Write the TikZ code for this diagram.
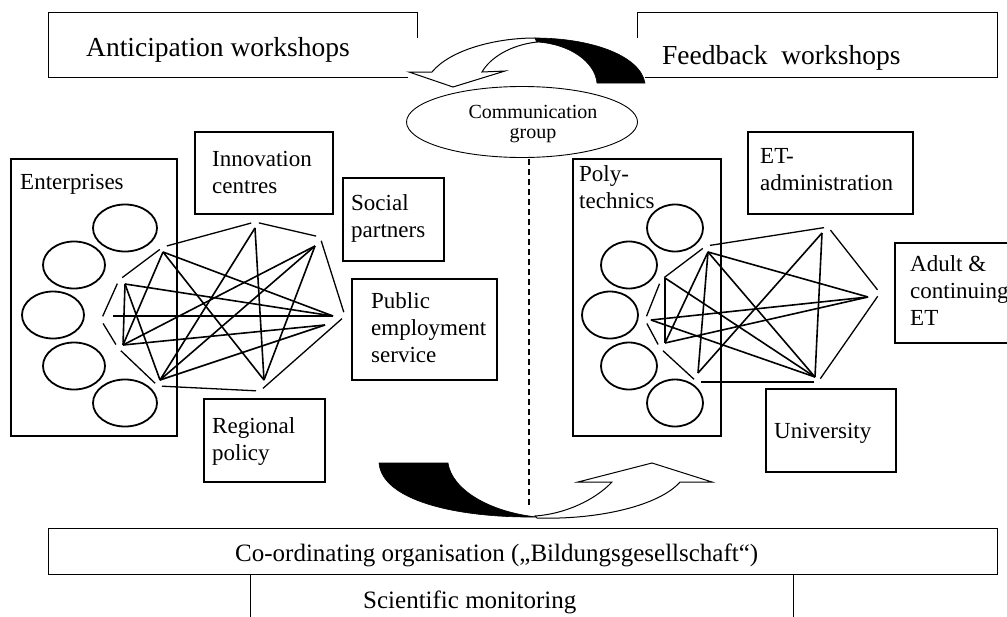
\documentclass[tikz,border=0pt]{standalone}
\usepackage{fontspec}
\setmainfont{Liberation Serif}
\usetikzlibrary{shapes.geometric}
\def\blob(#1)(#2:#3){\draw[line width=1.8pt] (#1) ellipse (#2pt and #3pt);}

\begin{document}
\begin{tikzpicture}[x=1pt,y=-1pt,
		thinline/.style={line width=0.9pt},
		unitline/.style={line width=1.9pt},
		link/.style={line width=1.6pt},
		rim/.style={line width=1.3pt, shorten >=4pt, shorten <=4pt},
		boxtext/.style={anchor=base west, align=left, inner sep=0pt, font=\fontsize{23}{27}\selectfont},
		headtext/.style={anchor=base west, inner sep=0pt, font=\fontsize{27.5}{30}\selectfont},
		foottext/.style={anchor=base west, inner sep=0pt, font=\fontsize{25}{28}\selectfont}]
			%%%%% START %%%%%
			\useasboundingbox (0,0) rectangle (1007,616);
			
			% workshops on top
			\draw[thinline] (417,38) -- (417,12) -- (48,12) -- (48,77) -- (408,77);
			\node[headtext] (antic) at (86,56) {Anticipation workshops};
			\draw[thinline] (637,38) -- (637,12) -- (997,12) -- (997,77) -- (645,77);
			\node[headtext] (feedb) at (662,64) {Feedback\ \ workshops};
			
			\node[draw, ellipse, thinline, minimum width=231pt, minimum height=71pt] (comm) at (522,122) {};
			\node[anchor=base, align=center, inner sep=0pt, font=\fontsize{20}{20}\selectfont] (commtext) at (533,138) {Communication\\group};
			
			% left side
			\draw[unitline] (11,159) rectangle (177,436);
			\node[boxtext] (ent) at (20,189) {Enterprises};
			\blob(125,228)(32:23.5)
			\blob(74,265)(31:23.5)
			\blob(53,315)(31:23.5)
			\blob(74,366)(31:23.5)
			\blob(125,403)(32:23.5)
			
			\draw[unitline] (195,132) rectangle (333,214);
			\node[boxtext] (innov) at (212,193) {Innovation\\centres};
			\draw[unitline] (343,178) rectangle (444,261);
			\node[boxtext] (social) at (351,237) {Social\\partners};
			\draw[unitline] (352,279) rectangle (497,380);
			\node[boxtext] (pes) at (371,362) {Public\\employment\\service};
			\draw[unitline] (204,399) rectangle (325,482);
			\node[boxtext] (regio) at (212,460) {Regional\\policy};
			
			\coordinate (o1) at (163,247);
			\coordinate (o2) at (255,222);
			\coordinate (o3) at (320,237);
			\coordinate (o4) at (345,316);
			\coordinate (o5) at (260,391);
			\coordinate (o6) at (158,386);
			\coordinate (o7) at (118,348);
			\coordinate (o8) at (101,320);
			\coordinate (o9) at (119,280);
			\draw[rim] (o1) -- (o2);
			\draw[rim] (o2) -- (o3);
			\draw[rim] (o3) -- (o4);
			\draw[rim] (o4) -- (o5);
			\draw[rim] (o5) -- (o6);
			\draw[rim] (o6) -- (o7);
			\draw[rim] (o7) -- (o8);
			\draw[rim] (o8) -- (o9);
			\draw[rim] (o9) -- (o1);
			
			\coordinate (l1) at (163,252);
			\coordinate (l2) at (255,228);
			\coordinate (l3) at (315,246);
			\coordinate (l4) at (333,316);
			\coordinate (l4x) at (325,325);
			\coordinate (l5) at (264,380);
			\coordinate (l6) at (160,380);
			\coordinate (l7) at (123,345);
			\coordinate (l8) at (113,316);
			\coordinate (l9) at (125,284);
			\draw[link] (l1) -- (l4);
			\draw[link] (l1) -- (l7);
			\draw[link] (l1) -- (l5);
			\draw[link] (l9) -- (l4);
			\draw[link] (l9) -- (l7);
			\draw[link] (l9) -- (l6);
			\draw[link] (l8) -- (l4);
			\draw[link] (l7) -- (l3);
			\draw[link] (l7) -- (l4x);
			\draw[link] (l6) -- (l2);
			\draw[link] (l6) -- (l3);
			\draw[link] (l6) -- (l4x);
			\draw[link] (l2) -- (l5);
			\draw[link] (l5) -- (l3);
			
			% right side
			\draw[line width=2.6pt] (573,159) rectangle (721,436);
			\node[boxtext] (poly) at (579,208) {Poly-\\technics};
			\blob(675,228)(28:23.5)
			\blob(629,265)(28:23.5)
			\blob(610,315)(28:23.5)
			\blob(629,366)(28:23.5)
			\blob(675,403)(28:23.5)
			
			\draw[unitline] (748,132) rectangle (913,214);
			\node[boxtext] (etadm) at (760,190) {ET-\\administration};
			\draw[unitline] (895,243) rectangle (1012,343);
			\node[boxtext] (adult) at (910,325) {Adult \&\\continuing\\ET};
			\draw[unitline] (766,389) rectangle (896,472);
			\node[boxtext] (univ) at (774,438) {University};
			
			\coordinate (p1) at (706,246);
			\coordinate (p2) at (828,227);
			\coordinate (p3) at (880,293);
			\coordinate (p4) at (818,382);
			\coordinate (p5) at (697,382);
			\coordinate (p6) at (660,348);
			\coordinate (p7) at (645,320);
			\coordinate (p8) at (661,280);
			\draw[rim] (p1) -- (p2);
			\draw[rim] (p2) -- (p3);
			\draw[rim] (p3) -- (p4);
			\draw[rim] (p4) -- (p5);
			\draw[rim] (p5) -- (p6);
			\draw[rim] (p6) -- (p7);
			\draw[rim] (p7) -- (p8);
			\draw[rim] (p8) -- (p1);
			
			\coordinate (r1) at (708,252);
			\coordinate (r2) at (822,233);
			\coordinate (r3) at (868,297);
			\coordinate (r4) at (815,377);
			\coordinate (r5) at (698,373);
			\coordinate (r6) at (665,343);
			\coordinate (r7) at (651,320);
			\coordinate (r8) at (665,278);
			\draw[link] (r1) -- (r3);
			\draw[link] (r1) -- (r6);
			\draw[link] (r1) -- (r4);
			\draw[link] (r1) -- (r5);
			\draw[link] (r8) -- (r6);
			\draw[link] (r8) -- (r4);
			\draw[link] (r7) -- (r3);
			\draw[link] (r6) -- (r3);
			\draw[link] (r7) -- (r4);
			\draw[link] (r5) -- (r2);
			\draw[link] (r2) -- (r4);
			
			% middle
			\coordinate (dtop) at (529,159);
			\coordinate (dbot) at (529,508);
			\draw[line width=1.1pt, dash pattern=on 6pt off 4pt] (dtop) -- (dbot);
			
			\draw[fill=black, line width=0.6pt] (535,38) .. controls (590,38) and (640,55) .. (645,83) -- (597,83) .. controls (595,62) and (570,44) .. (537,42) -- cycle;
			\draw[fill=white, line width=1pt] (535,38) .. controls (495,38) and (450,50) .. (432,72) -- (409,72) -- (453,87) -- (505,71) -- (482,72) .. controls (490,58) and (510,45) .. (537,42) -- cycle;
			
			\draw[fill=black, line width=0.6pt] (379,463) -- (448,463) .. controls (452,490) and (490,512) .. (537,517) .. controls (455,518) and (382,500) .. (379,463) -- cycle;
			\draw[fill=white, line width=1pt] (537,518) .. controls (600,520) and (660,505) .. (680,482) -- (712,482) -- (652,463) -- (578,482) -- (612,482) .. controls (595,500) and (565,514) .. (535,516) -- cycle;
			
			% bottom
			\draw[thinline] (48,528) rectangle (997,574);
			\node[foottext] (coord) at (235,561) {Co-ordinating organisation („Bildungsgesellschaft“)};
			\draw[thinline] (250,620) -- (250,574) -- (793,574) -- (793,620);
			\node[foottext] (monit) at (363,608) {Scientific monitoring};
			
			%%%%% END %%%%%
\end{tikzpicture}
\end{document}
